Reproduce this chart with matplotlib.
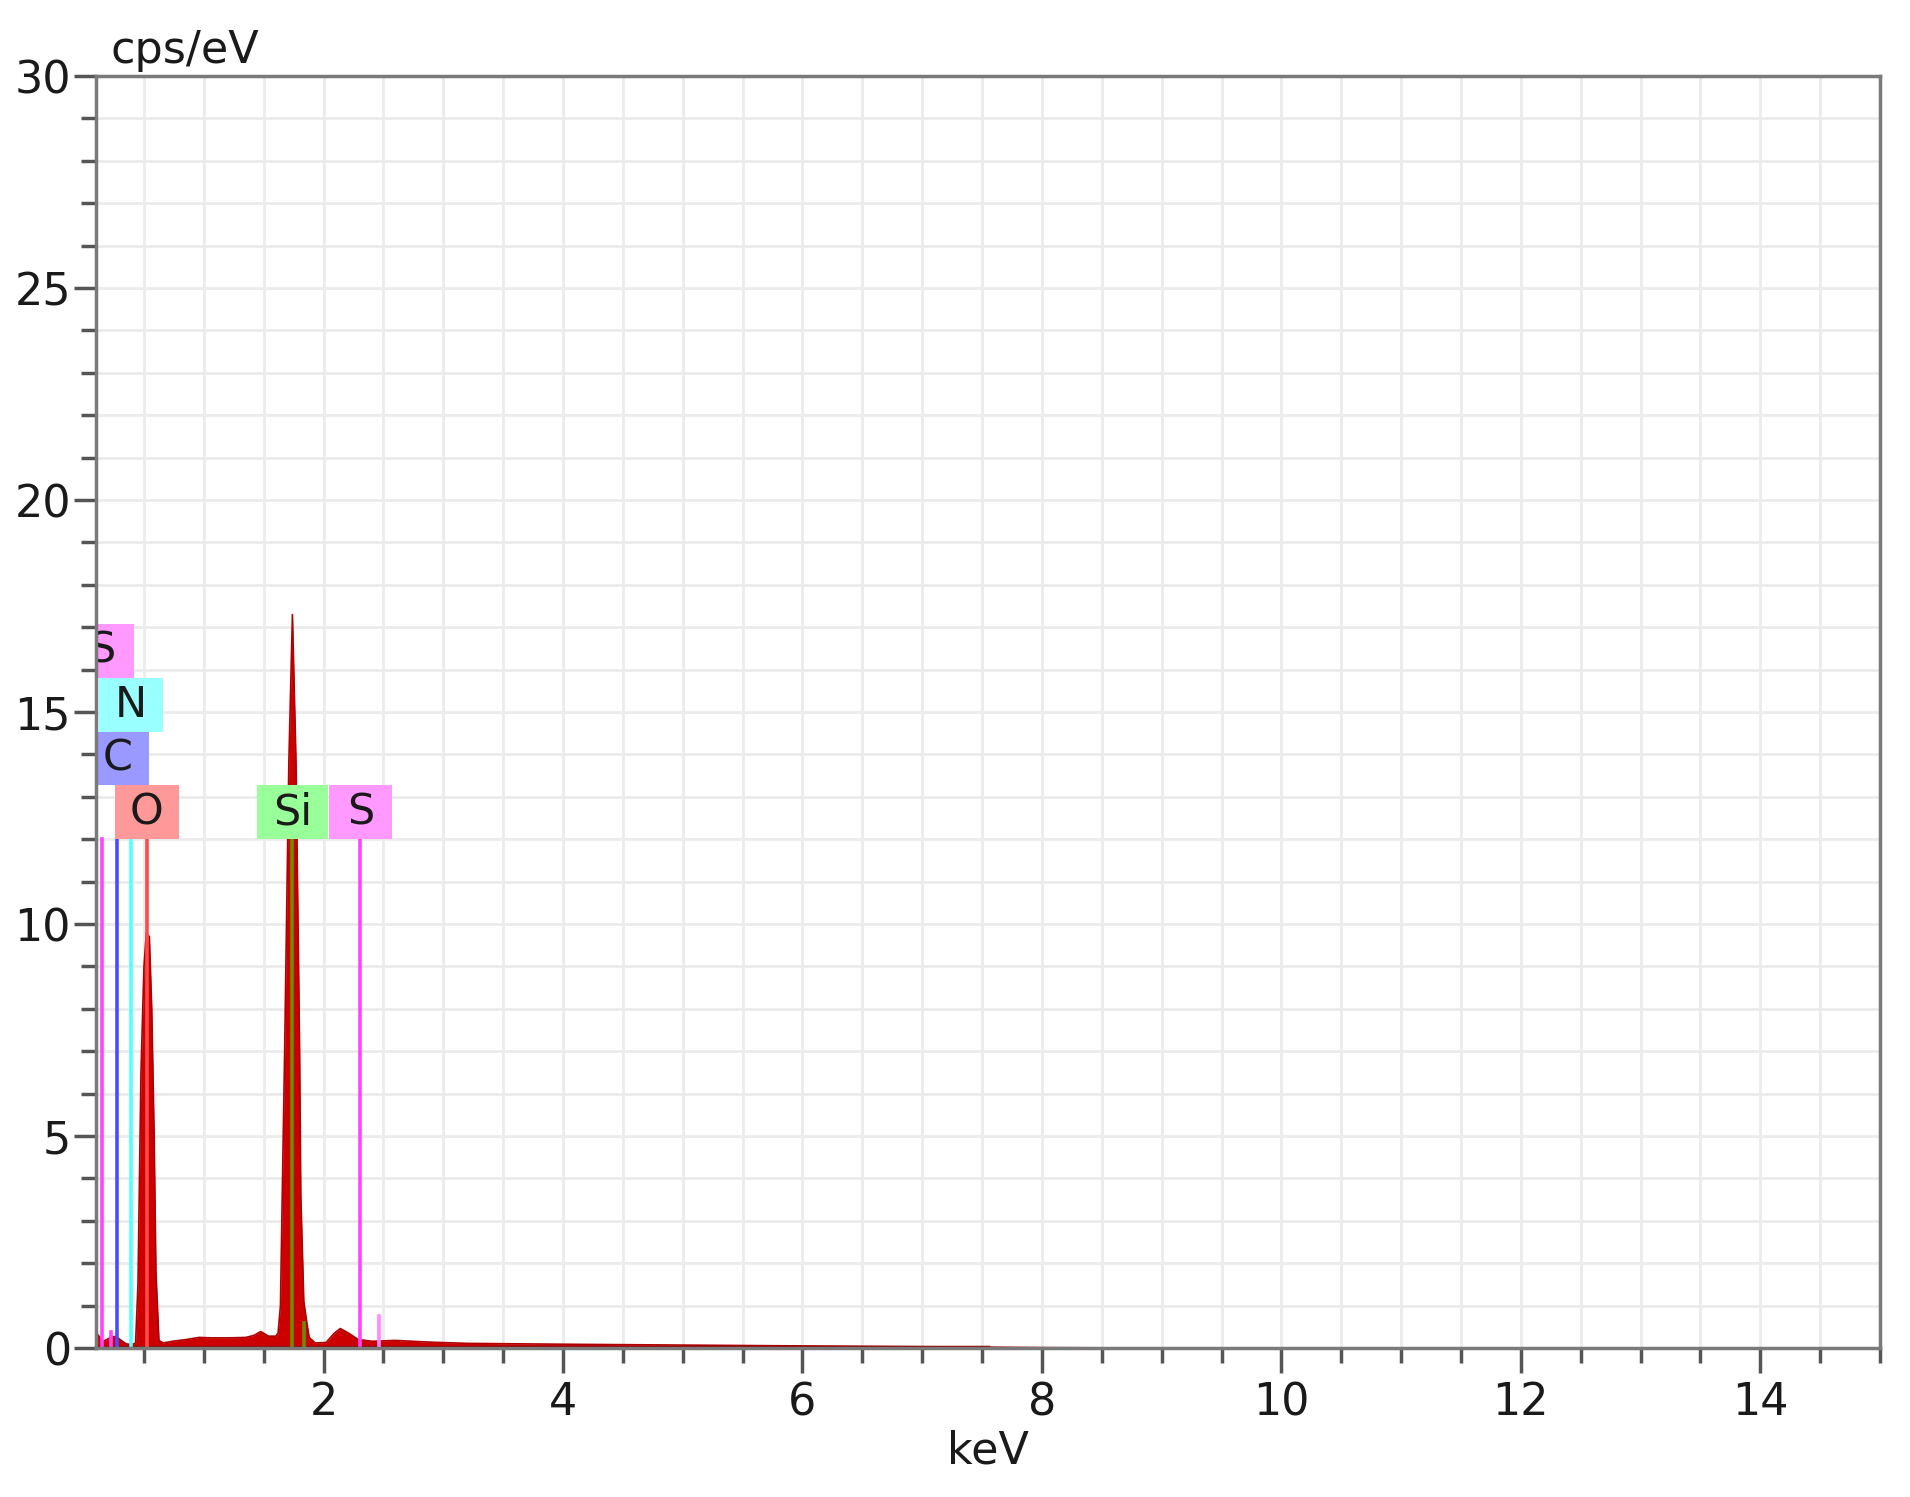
import matplotlib
matplotlib.use('Agg')
import matplotlib.pyplot as plt
from matplotlib.patches import Rectangle
from matplotlib.ticker import MultipleLocator

# spectrum (keV, cps/eV)
energy_kev = [0.10, 0.12, 0.15, 0.19, 0.23, 0.27, 0.31, 0.35, 0.40, 0.43,
              0.45, 0.475, 0.50, 0.52, 0.545, 0.565, 0.585, 0.60, 0.625, 0.66,
              0.74, 0.85, 0.96, 1.07, 1.21, 1.35, 1.42, 1.475, 1.54, 1.60,
              1.62, 1.64, 1.655, 1.675, 1.71, 1.74, 1.77, 1.80, 1.81, 1.835,
              1.86, 1.88, 1.93, 2.02, 2.09, 2.14, 2.21, 2.29, 2.41, 2.60,
              2.88, 3.2, 3.6, 4.0, 4.5, 5.0, 5.5, 6.0, 6.5, 7.0,
              7.6, 8.0, 9.0, 15.0]
cps = [0.35, 0.30, 0.15, 0.20, 0.27, 0.27, 0.18, 0.10, 0.08, 0.12,
       1.5, 6.5, 9.0, 9.8, 9.7, 8.0, 5.0, 1.8, 0.18, 0.12,
       0.16, 0.20, 0.25, 0.24, 0.24, 0.25, 0.30, 0.39, 0.28, 0.28,
       0.35, 1.0, 3.6, 7.0, 13.8, 17.3, 13.8, 7.0, 3.6, 1.1,
       0.6, 0.25, 0.12, 0.13, 0.35, 0.46, 0.35, 0.20, 0.16, 0.18,
       0.14, 0.11, 0.10, 0.09, 0.08, 0.07, 0.06, 0.05, 0.04, 0.03,
       0.02, 0.01, 0.0, 0.0]

# element marker lines
line_names = ['Si', 'S', 'C', 'N', 'O', 'Si', 'S']
line_kev = [0.10, 0.149, 0.277, 0.392, 0.525, 1.74, 2.307]
line_colors = ['#5a8a5a', '#ff44ff', '#4a4aff', '#55ffff', '#ff4a4a', '#6b8e00', '#ff44ff']
# minor lines without labels
minor_kev = [0.225, 1.835, 2.464]
minor_height = [0.39, 0.60, 0.75]
minor_colors = ['#ff44ff', '#6b8e00', '#ff88ff']

# label boxes: text, energy, stack level, box colour
label_text = ['S', 'N', 'C', 'O', 'Si', 'S']
label_kev = [0.149, 0.392, 0.277, 0.525, 1.74, 2.307]
label_level = [3, 2, 1, 0, 0, 0]
label_colors = ['#ff99ff', '#99ffff', '#9999ff', '#ff9999', '#99ff99', '#ff99ff']

fig = plt.figure(figsize=(19.1, 14.97), dpi=100)
ax = fig.add_axes([0.0503, 0.0995, 0.934, 0.8497])

ax.fill_between(energy_kev, cps, 0, color='#cc0000', lw=0, zorder=2)
ax.plot(energy_kev, cps, color='#b00000', lw=1.2, zorder=2)
ax.axhline(0.03, color='#8a0000', lw=2.5, xmax=0.5, zorder=2)

for e, c in zip(line_kev, line_colors):
    ax.plot([e, e], [0, 12], color=c, lw=2.6, zorder=3)
for e, h, c in zip(minor_kev, minor_height, minor_colors):
    ax.plot([e, e], [0, h], color=c, lw=2.6, zorder=3)

box_h = 1.27
for t, e, lv, c in zip(label_text, label_kev, label_level, label_colors):
    w = 0.46 + 0.07 * len(t)
    y0 = 12 + lv * box_h
    ax.add_patch(Rectangle((e - w / 2, y0), w, box_h, facecolor=c,
                           edgecolor='none', zorder=4))
    ax.text(e, y0 + box_h / 2, t, ha='center', va='center', fontsize=31,
            color='#1a1a1a', zorder=5, clip_on=True)

ax.set_xlim(0.1, 15)
ax.set_ylim(0, 30)
ax.xaxis.set_major_locator(MultipleLocator(2))
ax.xaxis.set_minor_locator(MultipleLocator(0.5))
ax.yaxis.set_major_locator(MultipleLocator(5))
ax.yaxis.set_minor_locator(MultipleLocator(1))
ax.grid(True, which='both', color='#ebebeb', lw=2.0)
ax.set_axisbelow(True)

ax.tick_params(which='major', length=16, width=2.5, color='#555555',
               labelsize=32, labelcolor='#1a1a1a', pad=2)
ax.tick_params(which='minor', length=11, width=2.5, color='#555555')
ax.tick_params(axis='x', which='major', length=18, pad=6)
for s in ax.spines.values():
    s.set_color('#7a7a7a')
    s.set_linewidth(2.5)
    s.set_zorder(6)

ax.set_xlabel('keV', fontsize=32, color='#1a1a1a', labelpad=4)
ax.text(0.008, 1.010, 'cps/eV', transform=ax.transAxes, fontsize=32,
        color='#1a1a1a', ha='left', va='baseline')

fig.savefig('out.png', dpi=100)
